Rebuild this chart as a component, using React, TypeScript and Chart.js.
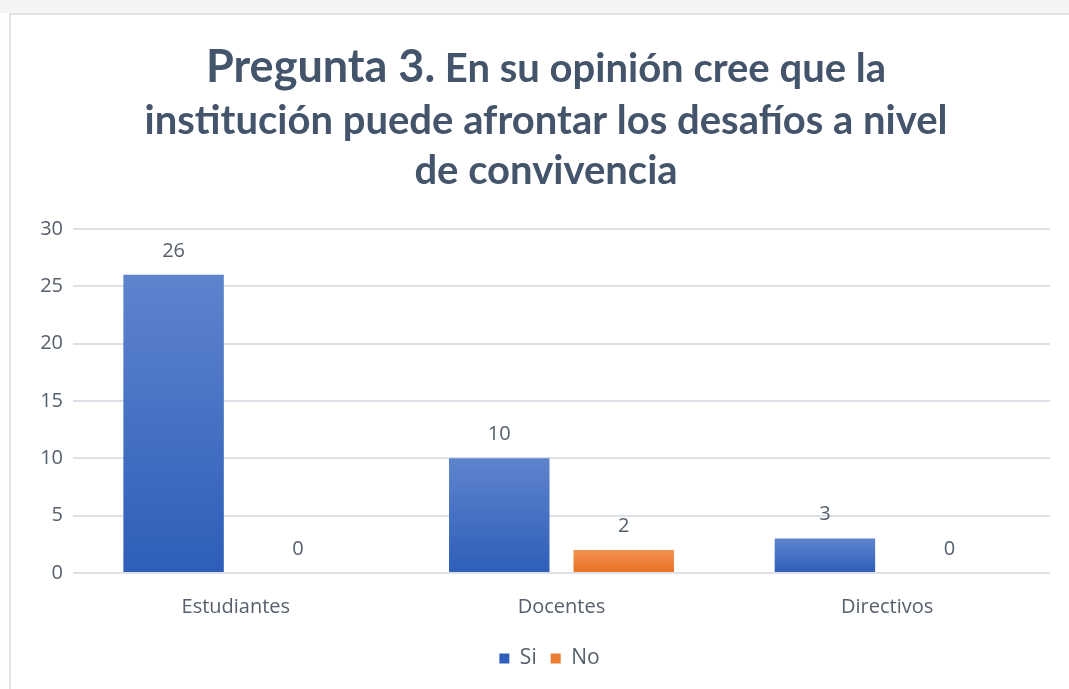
import React, { useEffect, useRef } from "react";
import { Chart, registerables } from "chart.js";

Chart.register(...registerables);

const categories = ["Estudiantes", "Docentes", "Directivos"];
const siValues = [26, 10, 3];
const noValues = [0, 2, 0];
const seriesNames = ["Si", "No"];
const yMin = 0;
const yMax = 30;
const yStep = 5;
const titleLead = "Pregunta 3.";
const titleRest = [
  " En su opinión cree que la",
  "institución puede afrontar los desafíos a nivel",
  "de convivencia",
];

const LABEL_FONT = "'Open Sans', sans-serif";
const TITLE_FONT = "Lato, sans-serif";
const TEXT_COLOR = "#56606c";
const TITLE_COLOR = "#44546a";

function gradientFill(top: string, bottom: string, solid: string) {
  return (ctx: any) => {
    const chart = ctx.chart;
    const y = chart.scales && chart.scales.y;
    if (!y || ctx.type !== "data" || !chart.chartArea) return solid;
    const y0 = y.getPixelForValue(0);
    const y1 = y.getPixelForValue(ctx.raw as number);
    if (!isFinite(y0) || !isFinite(y1) || Math.abs(y0 - y1) < 0.5) return solid;
    const g = chart.ctx.createLinearGradient(0, y1, 0, y0);
    g.addColorStop(0, top);
    g.addColorStop(1, bottom);
    return g;
  };
}

const valueLabels = {
  id: "valueLabels",
  afterDatasetsDraw(chart: any) {
    const ctx = chart.ctx;
    ctx.save();
    ctx.font = `20px ${LABEL_FONT}`;
    ctx.fillStyle = TEXT_COLOR;
    ctx.textAlign = "center";
    ctx.textBaseline = "middle";
    chart.data.datasets.forEach((ds: any, di: number) => {
      const meta = chart.getDatasetMeta(di);
      meta.data.forEach((bar: any, i: number) => {
        ctx.fillText(String(ds.data[i]), bar.x, bar.y - 24);
      });
    });
    ctx.restore();
  },
};

const legendShift = {
  id: "legendShift",
  afterLayout(chart: any) {
    const lg = chart.legend;
    if (lg) {
      lg.left += 20;
      lg.right += 20;
    }
  },
};

const mixedTitle = {
  id: "mixedTitle",
  afterDraw(chart: any) {
    const ctx = chart.ctx;
    const cx = chart.width / 2;
    ctx.save();
    ctx.fillStyle = TITLE_COLOR;
    ctx.textBaseline = "alphabetic";
    ctx.textAlign = "left";
    const leadFont = `bold 45px ${TITLE_FONT}`;
    const restFont = `bold 40px ${TITLE_FONT}`;
    ctx.font = leadFont;
    const w1 = ctx.measureText(titleLead).width;
    ctx.font = restFont;
    const w2 = ctx.measureText(titleRest[0]).width;
    const x = cx - (w1 + w2) / 2;
    ctx.font = leadFont;
    ctx.fillText(titleLead, x, 82);
    ctx.font = restFont;
    ctx.fillText(titleRest[0], x + w1, 82);
    ctx.textAlign = "center";
    ctx.fillText(titleRest[1], cx, 134);
    ctx.fillText(titleRest[2], cx, 184);
    ctx.restore();
  },
};

export default function App() {
  const ref = useRef<HTMLCanvasElement>(null);
  useEffect(() => {
    if (!ref.current) return;
    const chart = new Chart(ref.current, {
      type: "bar",
      data: {
        labels: categories,
        datasets: [
          {
            label: seriesNames[0],
            data: siValues,
            backgroundColor: gradientFill("#5e84cd", "#2e5eb9", "#4472c4"),
            categoryPercentage: 0.7645,
            barPercentage: 0.807,
          },
          {
            label: seriesNames[1],
            data: noValues,
            backgroundColor: gradientFill("#f29352", "#ea7020", "#ed7d31"),
            categoryPercentage: 0.7645,
            barPercentage: 0.807,
          },
        ],
      },
      options: {
        responsive: false,
        animation: false,
        devicePixelRatio: 1,
        layout: { padding: { top: 229, right: 33, bottom: 10, left: 0 } },
        plugins: {
          title: { display: false },
          tooltip: { enabled: false },
          legend: {
            position: "bottom",
            labels: {
              boxWidth: 10,
              boxHeight: 10,
              padding: 14,
              color: TEXT_COLOR,
              font: { family: LABEL_FONT, size: 21 },
            },
          },
        },
        scales: {
          x: {
            grid: { display: false },
            border: { display: false },
            ticks: {
              color: TEXT_COLOR,
              font: { family: LABEL_FONT, size: 20 },
              padding: 14,
            },
            afterFit: (s: any) => {
              s.height = 61;
            },
          },
          y: {
            min: yMin,
            max: yMax,
            grid: { color: "#dde1e7", lineWidth: 2, drawTicks: false },
            border: { display: false },
            ticks: {
              stepSize: yStep,
              color: TEXT_COLOR,
              font: { family: LABEL_FONT, size: 20 },
              padding: 10,
            },
            afterFit: (s: any) => {
              s.width = 64;
            },
          },
        },
      },
      plugins: [valueLabels, mixedTitle, legendShift],
    });
    return () => chart.destroy();
  }, []);

  return (
    <div
      style={{
        position: "fixed",
        left: 0,
        top: 0,
        width: 1069,
        height: 689,
        overflow: "hidden",
        background: "#fdfdfd",
      }}
    >
      <div style={{ position: "absolute", left: 0, top: 0, width: 1069, height: 13, background: "#f4f4f5" }} />
      <div
        style={{
          position: "absolute",
          left: 9,
          top: 13,
          width: 1100,
          height: 700,
          border: "2px solid #e0e4ea",
          background: "#ffffff",
        }}
      />
      <div style={{ position: "absolute", left: 9, top: 0, width: 1074, height: 689 }}>
        <canvas ref={ref} width={1074} height={689} style={{ display: "block" }} />
      </div>
    </div>
  );
}
